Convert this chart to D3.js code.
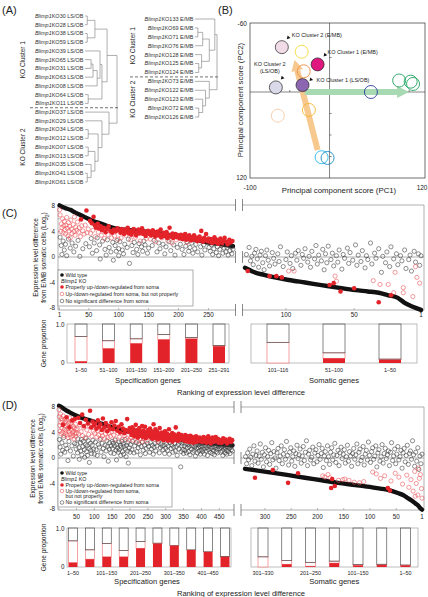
<!DOCTYPE html>
<html><head><meta charset="utf-8">
<script src="https://cdn.jsdelivr.net/npm/d3@7"></script>
<style>body{margin:0;background:#fff}svg{display:block;font-family:"Liberation Sans",Arial,Helvetica,sans-serif}</style>
</head><body><svg id="c" width="428" height="597"></svg>
<script>
// ================= DATA =================
// (A) dendrograms
const leftLeafIds = ["30","28","38","59","39","65","31","63","08","64","11","37","29","34","12","07","13","35","41","61"];
const rightLeafIds = ["133","69","71","76","128","125","124","73","122","123","72","126"];
// node = [childA, childB, height]; numbers are leaf indices
const leftTree = [[[[0,1,0.07],[2,3,0.07],0.31],[[4,[[[5,6,0.19],7,0.25],8,0.38],0.47],[9,10,0.1],0.53],0.69],[11,[12,[[13,14,0.1],[[15,16,0.1],[17,[18,19,0.07],0.19],0.31],0.41],0.53],0.75],1.0];
const rightTree = [[0,[[[1,2,0.13],3,0.35],[4,[5,6,0.17],0.3],0.65],0.9],[7,[8,[9,[10,11,0.17],0.35],0.48],0.65],1.0];

// (B) PCA
const bName  = ["KO Cluster 2 (E/MB)","KO Cluster 1 (E/MB)","KO Cluster 2 (LS/OB)","KO Cluster 1 (LS/OB)","WT-y","WT-o","WT-g","WT-p","WT-n","WT-gr1","WT-gr2","WT-gr3","WT-c1","WT-c2"];
const bPC1   = [-60,-15,-67.5,-34,-35,-32.5,-26,-65,52,87.5,102,105,-10,-2.5];
const bPC2   = [-39,-24,-4,-6,-35,-18,25,33,0,-10,-9,-7,91,92];
const bGroup = ["ko2e","ko1e","ko2l","ko1l","yellow","orange","gold","peach","navy","green","green","green","cyan","blue"];
const bArrowOrange = [[-15,81],[-44,-28]];
const bArrowGreen  = [[-31,0],[100,0]];

// (C) wild-type curves [rank, log2 diff]
const cSpecWT = [[1,8.1],[5,7.9],[10,7.7],[19,7.4],[27,7.0],[36,6.6],[49,6.0],[58,5.6],[69,5.3],[80,4.9],[94,4.5],[110,4.3],[133,4.1],[161,3.8],[189,3.4],[216,3.0],[244,2.4],[272,2.0],[291,1.7]];
const cSomaWT = [[130,-1.7],[127,-2.0],[123,-2.4],[116,-2.8],[110,-3.1],[98,-3.6],[86,-4.0],[74,-4.4],[62,-4.8],[49,-5.2],[40,-5.4],[32,-5.6],[25,-6.0],[18,-6.4],[13,-7.2],[7,-7.8],[1,-8.3]];
// (C) KO points
const cSpecProper = [[37,5.9],[46,7.3],[52,5.7],[55,5.3],[58,6.3],[60,5.0],[62,4.6],[65,5.2],[67,4.5],[70,4.8],[72,4.2],[75,4.6],[78,3.9],[80,4.4],[83,4.8],[86,4.1],[89,3.8],[92,4.3],[95,4.0],[98,4.5],
 [101,4.2],[103,3.8],[105,4.4],[107,4.0],[109,3.6],[111,4.3],[113,3.9],[115,4.6],[117,3.7],[119,4.1],[121,3.5],[123,4.0],[125,4.4],[127,3.8],[129,3.4],[131,4.0],[133,4.3],[135,3.7],[137,3.9],[139,4.5],[141,3.6],[143,4.0],[145,3.3],[147,3.8],[149,4.1],
 [151,3.6],[152,4.0],[154,3.4],[155,3.8],[157,4.2],[158,3.5],[160,3.9],[161,3.2],[163,3.7],[165,4.0],[166,3.4],[168,3.6],[170,4.3],[171,3.1],[173,3.5],[175,3.8],[176,3.3],[178,3.6],[180,3.9],[181,3.0],[183,3.4],[185,4.6],[186,3.2],[188,3.5],[190,3.7],[191,3.0],[193,3.3],[195,3.6],[197,3.1],[199,3.4],
 [201,3.2],[202,2.9],[204,3.5],[205,3.1],[207,2.8],[208,3.3],[210,3.0],[211,3.6],[213,2.7],[215,3.2],[216,2.9],[218,3.4],[220,3.0],[221,2.6],[223,3.1],[225,2.8],[226,3.4],[228,2.7],[230,3.0],[231,2.5],[233,2.9],[235,3.2],[236,2.6],[238,4.1],[240,2.8],[241,2.4],[243,3.0],[245,2.7],[246,3.6],[248,2.5],[250,2.9],
 [252,2.4],[254,2.8],[256,2.2],[258,2.6],[260,3.1],[262,2.3],[264,2.7],[266,2.1],[268,2.5],[270,2.9],[273,2.2],[275,2.6],[277,3.0],[280,2.4],[282,2.0],[285,2.7],[287,2.3],[290,2.5]];
const cSpecImproper = [[1,7.4],[2,6.6],[3,4.0],[4,5.2],[5,4.6],[6,6.0],[7,3.8],[8,4.9],[9,5.6],[10,4.3],[11,3.6],[12,5.0],[13,6.2],[14,4.5],[15,3.3],[16,5.4],[17,4.1],[18,4.8],[19,3.0],[20,5.8],[21,4.4],[22,3.7],[24,5.1],[25,4.0],[26,6.3],[27,3.4],[28,4.7],[30,4.2],[31,5.5],[33,3.9],[34,4.6],[36,3.2],[38,4.9],[40,4.1],[42,3.6],[44,5.0],[47,3.8],[49,4.4],
 [53,3.7],[57,4.2],[61,3.2],[66,3.9],[71,3.4],[76,2.9],[82,3.5],[88,3.0],[93,3.3],[99,2.8],[104,3.0],[112,3.4],[120,2.7],[128,3.1],[136,2.5],[146,2.9],[153,2.8],[162,2.4],[172,3.0],[182,2.6],[189,2.2],[196,2.7],[214,2.3],[234,2.6],[271,2.0]];
const cSpecNoDiff = [[2,3.1],[4,1.8],[5,0.4],[7,2.5],[9,1.1],[11,2.0],[13,0.2],[16,2.8],[19,1.4],[22,2.2],[25,0.8],[28,1.7],[32,2.6],[35,0.1],[40,1.3],[45,2.1],
 [51,1.6],[54,2.9],[56,0.6],[59,2.2],[63,1.0],[64,3.0],[68,1.9],[69,-0.3],[73,2.5],[77,1.2],[79,0.3],[81,2.7],[84,1.5],[87,0.8],[90,2.3],[91,-0.5],[94,1.8],[96,0.9],[97,2.6],[100,1.3],[100,0.2],
 [102,2.4],[106,1.1],[108,0.5],[110,2.0],[114,1.5],[116,2.8],[118,-1.0],[122,1.8],[124,0.7],[126,2.3],[130,1.2],[132,0.4],[134,2.1],[138,1.6],[140,0.9],[142,2.5],[144,1.9],[148,0.6],[150,1.4],
 [156,1.8],[159,2.6],[164,0.8],[167,2.2],[169,1.3],[174,2.0],[177,0.5],[179,1.6],[184,2.4],[187,1.0],[192,1.9],[194,0.3],[198,1.5],
 [203,2.0],[206,1.2],[209,0.4],[212,1.7],[214,2.4],[217,0.9],[219,1.5],[222,2.2],[224,0.6],[227,1.3],[229,2.0],[232,0.8],[237,1.6],[239,0.3],[242,1.9],[244,1.1],[249,2.2],
 [251,1.5],[253,0.9],[255,1.9],[257,0.4],[259,1.3],[261,2.1],[263,0.7],[265,1.6],[267,0.2],[269,1.2],[272,1.8],[274,0.6],[276,1.4],[278,2.0],[279,0.8],[281,1.5],[283,0.3],[284,1.8],[286,1.0],[288,1.6],[289,0.5],[291,1.2]];
const cSomaProper = [[128,-2.2],[112,-3.0],[107,-3.0],[103,-3.2],[68,-4.4],[65,-4.1],[60,-5.4],[50,-4.9],[32,-7.1],[23,-6.0]];
const cSomaImproper = [[98,-2.2],[94,-2.2],[64,-3.0],[63,-3.8],[36,-3.7],[31,-4.3],[25,-4.3],[21,-5.6],[20,-2.4],[14,-5.6],[14,-4.8],[7,-6.2],[5,-1.5],[4,-3.2],[2,-4.1]];
const cSomaNoDiff = [[129,0.4],[127,1.5],[126,-0.6],[125,0.1],[124,-1.2],[123,0.6],[122,1.2],[121,-0.3],[120,-1.6],[119,0.3],[118,0.9],[117,-0.9],[116,-2.0],[115,0.2],[114,1.1],[113,-0.5],[112,-1.4],[110,0.7],[109,-0.2],[108,-1.1],[106,0.5],[105,-0.7],[104,1.6],[102,-1.5],[100,-0.4],[99,0.8],[97,-1.0],[96,0.2],[95,-1.8],[93,0.6],[92,-0.5],[91,1.0],[89,-1.3],[88,0.4],[87,-0.2],[86,1.3],[84,-0.8],[83,0.1],[82,-1.6],[81,0.9],[79,-0.3],[78,1.8],[77,-1.1],[76,0.3],[74,-0.6],[73,1.2],[72,-2.0],[71,0.5],[70,-0.9],[69,1.7],[67,-0.4],[66,0.6],[65,-1.4],[63,0.2],[62,-0.8],[61,1.1],[59,-1.9],[58,0.4],[57,-0.2],[55,1.4],[54,-1.0],[53,0.7],[51,-0.5],[49,1.9],[48,-1.3],[47,0.3],[45,-0.7],[44,1.0],[42,-1.7],[41,0.2],[40,-0.4],[38,2.2],[37,-1.1],[35,0.6],[34,-0.2],[32,1.3],[30,-2.4],[29,0.1],[27,-0.9],[26,0.8],[24,-1.5],[23,1.6],[21,-0.3],[19,0.5],[18,-1.2],[16,0.2],[15,-0.6],[13,1.1],[12,-1.8],[10,-0.4],[9,0.3],[8,-2.2],[6,0.9],[5,-0.8],[3,0.5],[2,-1.3],[1,0.2]];

// (D) wild-type curves
const dSpecWT = [[1,8.2],[5,8.1],[10,7.9],[20,7.5],[30,7.2],[47,6.7],[65,6.3],[83,6.0],[105,5.6],[130,5.2],[150,4.8],[177,4.4],[200,4.1],[222,3.9],[245,3.7],[269,3.45],[290,3.2],[316,3.0],[340,2.85],[361,2.7],[385,2.55],[408,2.4],[430,2.3],[455,2.2],[487,2.0]];
const dSomaWT = [[338,-1.7],[320,-1.9],[287,-2.3],[255,-2.7],[224,-3.1],[192,-3.5],[161,-3.9],[128,-4.25],[96,-4.6],[80,-4.8],[66,-5.0],[47,-5.5],[35,-5.9],[28,-6.3],[20,-6.7],[14,-7.1],[8,-7.5],[5,-7.8],[1,-8.1]];
// (D) KO points
const dSpecProper = [[12,5.2],[22,6.4],[30,4.8],[38,5.9],[45,6.1],
 [55,6.3],[60,5.5],[66,6.8],[71,5.0],[76,6.0],[82,5.4],[88,7.4],[91,4.8],[95,5.7],[99,5.1],
 [102,5.4],[106,4.6],[110,5.9],[113,4.9],[117,5.3],[121,4.4],[124,6.2],[128,4.8],[132,5.5],[136,4.2],[140,5.0],[144,4.6],[148,5.6],
 [152,4.5],[156,5.1],[160,5.8],[164,4.3],[168,4.9],[172,4.0],[176,5.3],[180,4.6],[184,3.9],[188,4.4],[192,6.1],[196,4.1],[199,4.7],
 [202,4.2],[204,3.6],[206,4.8],[208,3.9],[210,4.5],[212,3.4],[214,4.1],[216,5.2],[218,3.7],[220,4.4],[222,3.2],[224,4.0],[226,4.7],[228,3.5],[230,4.2],[232,3.8],[234,5.0],[236,3.3],[238,4.3],[240,3.6],[242,4.9],[244,3.1],[246,4.0],[248,3.7],
 [251,4.4],[253,3.4],[254,3.9],[256,4.6],[258,3.2],[259,3.7],[261,4.2],[263,3.0],[264,3.6],[266,5.3],[268,3.3],[269,3.9],[271,4.5],[273,3.1],[274,3.5],[276,4.1],[278,2.9],[279,3.4],[281,3.8],[283,4.7],[284,3.2],[286,3.6],[288,4.0],[289,3.0],[291,3.3],[293,3.9],[294,2.8],[296,3.5],[298,4.2],[299,3.1],
 [301,3.5],[303,3.0],[304,3.8],[306,2.7],[308,3.3],[309,4.5],[311,3.1],[313,3.6],[314,2.8],[316,3.4],[318,3.9],[319,2.6],[321,3.2],[323,3.7],[324,2.9],[326,3.3],[328,4.8],[329,3.0],[331,3.5],[333,2.7],[334,3.2],[336,3.8],[338,2.8],[339,3.4],[341,3.0],[344,3.6],[347,2.9],
 [351,3.3],[353,2.7],[355,3.6],[357,3.0],[359,2.6],[361,3.4],[363,2.9],[365,3.2],[367,2.5],[369,3.5],[371,3.0],[373,2.7],[375,3.3],[377,2.4],[380,3.1],[382,2.8],[385,3.4],[387,2.5],[390,3.0],[393,2.7],[395,3.2],[398,2.6],
 [401,3.0],[404,2.5],[406,3.3],[409,2.7],[411,3.1],[414,2.4],[416,2.9],[419,3.4],[421,2.6],[424,3.0],[426,2.3],[429,2.8],[431,3.2],[434,2.5],[437,2.9],[440,3.3],[443,2.6],[446,3.0],[449,2.4],
 [453,2.8],[457,2.4],[461,3.1],[464,2.6],[468,2.9],[472,2.3],[476,2.7],[479,3.0],[483,2.5],[486,2.8]];
const dSpecImproper = [[1,7.6],[2,6.5],[3,5.1],[4,4.2],[5,6.9],[6,5.6],[7,3.8],[8,6.2],[9,4.7],[10,5.9],[11,4.0],[13,6.6],[14,5.3],[15,3.5],[16,4.5],[17,6.1],[18,5.0],[19,3.9],[20,5.7],[21,4.3],[23,6.0],[24,3.6],[25,5.2],[26,4.6],[27,3.2],[28,5.5],[29,4.1],[31,6.3],[32,3.7],[33,4.9],[34,5.4],[35,3.3],[36,4.4],[37,5.8],[39,4.0],[40,3.5],[41,5.0],[42,4.2],[43,3.0],[44,4.7],[46,3.8],[47,5.3],[48,3.4],[49,4.5],[50,3.9],
 [52,4.6],[56,3.8],[59,5.2],[63,4.1],[67,3.5],[70,4.8],[74,3.2],[79,4.4],[84,3.7],[87,5.0],[93,3.4],[97,4.2],
 [101,3.9],[104,4.8],[107,3.3],[109,4.3],[112,3.6],[115,5.0],[118,3.1],[120,4.0],[123,3.5],[126,4.6],[129,3.0],[131,3.8],[134,4.4],[138,3.2],[141,3.9],[145,3.4],[149,4.1],
 [154,3.6],[159,3.0],[166,3.9],[171,3.3],[178,2.9],[185,3.5],[191,3.1],[197,2.8],
 [203,3.2],[209,2.8],[215,3.4],[221,2.6],[227,3.0],[233,2.5],[239,3.1],[247,2.7],[277,2.6]];
const dSpecNoDiff = [[2,2.9],[4,1.7],[6,0.6],[9,2.4],[11,1.2],[14,3.2],[17,0.9],[20,2.0],[23,1.5],[26,-0.4],[29,2.6],[33,1.1],[37,1.9],[41,0.3],[45,2.3],[49,1.4],
 [51,2.2],[53,0.8],[54,3.0],[57,1.6],[58,-0.2],[61,2.4],[62,1.1],[64,2.9],[65,0.5],[68,1.8],[69,2.6],[72,1.3],[73,0.1],[75,2.1],[77,3.1],[78,1.0],[80,1.9],[81,0.4],[83,2.7],[85,1.5],[86,-0.7],[89,2.3],[90,1.2],[92,0.7],[94,2.0],[96,2.8],[98,1.4],[100,0.6],
 [103,2.5],[105,1.3],[108,0.4],[111,2.1],[114,1.7],[116,2.9],[119,0.9],[122,2.3],[125,1.5],[127,0.2],[130,2.0],[133,1.1],[135,2.7],[137,1.8],[139,-0.5],[142,1.4],[143,2.4],[146,0.8],[147,1.9],[150,2.6],
 [151,1.5],[153,2.3],[155,0.7],[157,1.9],[158,2.8],[161,1.2],[162,-0.3],[163,2.1],[165,1.6],[167,0.9],[169,2.5],[170,1.3],[173,2.0],[174,0.4],[175,1.7],[177,2.6],[179,1.0],[181,2.2],[182,0.6],[183,1.8],[186,2.9],[187,1.4],[189,0.2],[190,2.0],[193,1.1],[194,2.4],[195,-0.8],[198,1.6],[200,0.9],
 [201,2.1],[205,1.3],[207,2.6],[211,0.8],[213,1.9],[217,2.4],[219,1.0],[223,1.6],[225,2.2],[229,0.5],[231,1.8],[235,2.5],[237,1.2],[241,2.0],[243,0.7],[245,1.5],[249,2.3],
 [252,1.8],[255,0.9],[257,2.4],[260,1.4],[262,2.0],[265,0.6],[267,1.7],[270,2.3],[272,1.1],[275,1.9],[280,2.5],[282,0.8],[285,1.6],[287,2.2],[290,-2.7],[292,1.3],[295,2.0],[297,0.7],[300,1.5],[290,1.9],
 [302,2.2],[305,1.2],[307,1.9],[310,0.6],[312,2.4],[315,1.5],[317,2.0],[320,0.9],[322,1.7],[325,2.3],[327,1.1],[330,1.8],[332,0.4],[335,2.1],[337,1.4],[340,2.5],[342,-1.4],[343,1.0],[345,1.9],[346,2.3],[348,1.3],[350,0.7],
 [352,1.9],[354,1.2],[356,2.3],[358,0.8],[360,1.6],[362,2.1],[364,1.0],[366,1.8],[368,0.5],[370,2.2],[372,1.4],[374,1.9],[376,0.9],[378,2.4],[379,1.2],[381,1.7],[383,0.3],[384,2.0],[386,1.5],[388,2.3],[389,0.8],[391,1.6],[392,2.1],[394,1.1],[396,1.8],[397,0.6],[399,2.2],[400,1.3],
 [402,1.8],[403,1.0],[405,2.2],[407,1.4],[408,0.6],[410,1.9],[412,2.4],[413,1.1],[415,1.6],[417,0.4],[418,2.0],[420,1.3],[422,1.8],[423,2.3],[425,0.9],[427,1.5],[428,2.1],[430,0.7],[432,1.7],[433,1.2],[435,2.2],[436,0.5],[438,1.6],[439,1.9],[441,1.0],[442,2.4],[444,1.4],[445,0.8],[447,1.8],[448,2.1],
 [451,1.5],[452,2.0],[454,0.9],[455,1.7],[456,2.3],[458,1.1],[459,1.8],[460,0.4],[462,2.1],[463,1.4],[465,1.9],[466,0.8],[467,1.6],[469,2.2],[470,1.2],[471,0.6],[473,1.8],[474,2.4],[475,1.0],[477,1.5],[478,2.0],[480,0.7],[481,1.7],[482,2.2],[484,1.3],[485,1.9],[487,1.1]];
const dSomaProper = [[319,-3.1],[285,-1.9],[256,-3.9],[237,-2.4],[172,-3.3],[174,-4.7],[167,-4.4],[66,-4.7],[62,-5.1]];
const dSomaImproper = [[190,-2.8],[186,-3.0],[180,-2.6],[176,-3.1],[160,-3.5],[152,-3.4],[148,-3.3],[140,-3.5],[130,-3.8],[120,-3.9],[112,-3.7],[95,-2.2],[88,-2.5],[80,-3.2],[72,-2.8],[60,-3.6],[52,-2.4],[45,-3.0],[38,-4.1],[30,-2.7],[26,-4.6],[22,-3.4],[18,-5.2],[15,-2.1],[14,-6.0],[12,-4.0],[9,-5.8],[8,-1.6],[6,-3.2],[4,-2.6],[2,-4.8],[1,-6.3]];
const dSomaNoDiff = [[337,0.2],[335,-0.9],[333,0.8],[331,-0.3],[329,1.4],[327,0.1],[325,-1.2],[323,0.6],[321,1.9],[319,-0.5],[317,0.4],[315,1.1],[313,-0.8],[311,0.3],[309,2.2],[307,-0.2],[305,0.9],[303,-1.4],[301,0.5],[299,1.6],[297,-0.6],[295,0.2],[293,1.2],[291,-1.0],[289,0.7],[287,2.4],[285,-0.3],[283,1.0],[281,0.0],[279,-1.6],[277,0.8],[275,1.5],[273,-0.4],[271,0.3],[269,1.9],[267,-0.9],[265,0.6],[263,1.3],[261,-0.2],[259,2.6],[257,0.4],[255,-1.1],[253,0.9],[251,1.6],[249,-0.5],[247,0.2],[245,1.1],[243,-1.3],[241,0.7],[239,2.0],[237,-0.1],[235,0.5],[233,1.4],[231,-0.8],[229,0.3],[227,1.8],[225,-0.4],[223,0.9],[221,2.7],[219,-1.2],[217,0.6],[215,1.2],[213,-0.3],[211,0.1],[209,1.7],[207,-0.9],[205,0.8],[203,1.3],[201,-0.6],[199,0.4],[197,2.1],[195,-0.2],[193,0.7],[191,1.5],[189,-1.5],[187,0.3],[185,1.0],[183,-0.4],[181,1.9],[179,0.2],[177,-1.0],[175,0.9],[173,1.6],[171,-0.3],[169,0.5],[167,2.3],[165,-0.7],[163,0.4],[161,1.2],[159,-1.2],[157,0.8],[155,1.7],[153,-0.1],[151,0.6],[149,1.3],[147,-0.8],[145,0.2],[143,2.0],[141,-0.5],[139,1.0],[137,0.3],[135,-1.3],[133,0.7],[131,1.5],[129,-0.2],[127,0.5],[125,2.2],[123,-0.9],[121,0.9],[119,1.4],[117,-0.4],[115,0.1],[113,1.8],[111,-1.1],[109,0.6],[107,1.2],[105,-0.3],[103,2.5],[101,0.4],[99,-0.7],[97,1.0],[95,1.6],[93,-0.2],[91,0.3],[89,1.9],[87,-1.4],[85,0.8],[83,1.3],[81,-0.5],[79,0.2],[77,2.1],[75,-0.8],[73,0.7],[71,1.5],[69,-0.1],[67,0.5],[65,1.1],[63,-1.2],[61,0.9],[59,2.4],[57,-0.4],[55,0.3],[53,1.4],[51,-0.9],[49,0.6],[47,1.8],[45,-0.3],[43,0.2],[41,1.2],[39,-1.6],[37,0.8],[35,1.5],[33,-0.6],[31,0.4],[29,2.0],[27,-1.0],[25,0.7],[23,1.1],[21,-0.2],[19,2.7],[17,0.5],[15,-1.3],[13,0.9],[11,-0.5],[9,1.6],[7,-1.8],[5,0.3],[3,-0.9],[1,0.6]];

// gene-proportion bars
const cSpecCats = ["1–50","51–100","101–150","151–200","201–250","251–291"];
const cSpecProp = [0.04,0.37,0.50,0.60,0.62,0.43];
const cSpecImp  = [0.64,0.20,0.12,0.13,0.03,0.02];
const cSomaCats = ["101–116","51–100","1–50"];
const cSomaProp = [0.0,0.12,0.08];
const cSomaImp  = [0.53,0.14,0.02];
const dSpecCats = ["1–50","51–100","101–150","151–200","201–250","251–300","301–350","351–400","401–450","451–487"];
const dSpecProp = [0.11,0.20,0.26,0.26,0.48,0.60,0.55,0.44,0.39,0.26];
const dSpecImp  = [0.56,0.24,0.34,0.16,0.17,0.01,0.0,0.0,0.0,0.01];
const dSomaCats = ["301–330","251–300","201–250","151–200","101–150","51–100","1–50"];
const dSomaProp = [0.0,0.07,0.02,0.10,0.04,0.05,0.04];
const dSomaImp  = [0.26,0.10,0.10,0.05,0.02,0.02,0.01];

const yTicksScatter = [8,4,0,-4,-8];

// ================= DRAWING =================
const svg = d3.select("#c");
const RED = "#e3232a", RED_O = "#ea4a4f", AX = "#8e8e8e", DK = "#222";

function txt(g, x, y, s, size, anchor, extra) {
  const t = g.append("text").attr("x", x).attr("y", y).attr("font-size", size)
    .attr("text-anchor", anchor || "start").attr("fill", DK).text(s);
  if (extra) extra(t);
  return t;
}
function ln(g, x1, y1, x2, y2, c, w, dash) {
  const l = g.append("line").attr("x1", x1).attr("y1", y1).attr("x2", x2).attr("y2", y2)
    .attr("stroke", c || AX).attr("stroke-width", w || 0.7);
  if (dash) l.attr("stroke-dasharray", dash);
  return l;
}
function rotText(g, x, y, parts, size) {
  const t = g.append("text").attr("transform", `translate(${x},${y}) rotate(-90)`)
    .attr("font-size", size).attr("text-anchor", "middle").attr("fill", DK);
  parts.forEach(p => {
    const s = t.append("tspan").text(p.t);
    if (p.i) s.attr("font-style", "italic");
    if (p.sub) s.attr("baseline-shift", "sub").attr("font-size", size * 0.7);
  });
  return t;
}

// panel letters
[["(A)",2,14],["(B)",218,14],["(C)",2,217],["(D)",2,409]].forEach(d => txt(svg, d[1], d[2], d[0], 11));

// ---------- (A) ----------
function drawTree(tree, ids, suffix, yr, xr) {
  const g = svg.append("g");
  const y = d3.scaleLinear().domain([0, ids.length - 1]).range(yr);
  const x = d3.scaleLinear().domain([0, 1]).range(xr);
  function walk(n) {
    if (typeof n === "number") return { y: y(n), h: 0 };
    const a = walk(n[0]), b = walk(n[1]), h = n[2];
    g.append("path").attr("d", `M${x(a.h)},${a.y}H${x(h)}V${b.y}H${x(b.h)}`)
      .attr("fill", "none").attr("stroke", "#7a7a7a").attr("stroke-width", 0.6);
    return { y: (a.y + b.y) / 2, h };
  }
  walk(tree);
  ids.forEach((id, i) => {
    const t = g.append("text").attr("x", xr[0] - 1.5).attr("y", y(i) + 1.9)
      .attr("font-size", 5.5).attr("text-anchor", "end").attr("fill", "#333");
    t.append("tspan").attr("font-style", "italic").text("Blimp1");
    t.append("tspan").text("KO" + id + " " + suffix);
  });
  return y;
}
const yl = drawTree(leftTree, leftLeafIds, "LS/OB", [16, 182], [85, 117]);
ln(svg, 30, yl(10.5), 118, yl(10.5), "#333", 0.7, "3,2");
rotText(svg, 24.5, (yl(0) + yl(10)) / 2, [{ t: "KO Cluster 1" }], 6.5);
rotText(svg, 24.5, (yl(11) + yl(19)) / 2, [{ t: "KO Cluster 2" }], 6.5);
const yr = drawTree(rightTree, rightLeafIds, "E/MB", [19, 117], [195, 217]);
ln(svg, 130, yr(6.5), 218, yr(6.5), "#333", 0.7, "3,2");
rotText(svg, 134.5, (yr(0) + yr(6)) / 2, [{ t: "KO Cluster 1" }], 6.5);
rotText(svg, 134.5, (yr(7) + yr(11)) / 2, [{ t: "KO Cluster 2" }], 6.5);

// ---------- (B) ----------
(function () {
  const g = svg.append("g");
  const x = d3.scaleLinear().domain([-100, 120]).range([250, 425]);
  const y = d3.scaleLinear().domain([-60, 0, 120]).range([23, 92, 178]);
  g.append("rect").attr("x", x(-100)).attr("y", y(-60)).attr("width", x(120) - x(-100)).attr("height", y(120) - y(-60))
    .attr("fill", "none").attr("stroke", "#333").attr("stroke-width", 0.7);
  ln(g, x(0), y(-60), x(0), y(120), "#333", 0.6);
  ln(g, x(-100), y(0), x(120), y(0), "#333", 0.6);
  [-30, 30, 60, 90].forEach(v => ln(g, x(0), y(v), x(0) + 2, y(v), "#333", 0.6));
  [-50, 50, 100].forEach(v => ln(g, x(v), y(0), x(v), y(0) - 2, "#333", 0.6));
  function arrow(p, color, w, hl, hw) {
    const x1 = x(p[0][0]), y1 = y(p[0][1]), x2 = x(p[1][0]), y2 = y(p[1][1]);
    const a = Math.atan2(y2 - y1, x2 - x1), c = Math.cos(a), s = Math.sin(a);
    const bx = x2 - hl * c, by = y2 - hl * s;
    g.append("line").attr("x1", x1).attr("y1", y1).attr("x2", bx).attr("y2", by)
      .attr("stroke", color).attr("stroke-width", w);
    g.append("path").attr("d", `M${x2},${y2}L${bx - hw / 2 * s},${by + hw / 2 * c}L${bx + hw / 2 * s},${by - hw / 2 * c}Z`).attr("fill", color);
  }
  arrow(bArrowOrange, "#f7c98f", 6, 11, 12);
  arrow(bArrowGreen, "#a7d9b2", 6, 12, 12);
  const st = {
    ko2e: { f: "#f1dbe7", s: "#222" }, ko1e: { f: "#e0177f", s: "#222" }, ko2l: { f: "#d9d9ea", s: "#222" }, ko1l: { f: "#8d66b2", s: "#222" },
    yellow: { f: "none", s: "#f4dc3a" }, orange: { f: "none", s: "#f08c3e" }, gold: { f: "none", s: "#f4b62e" }, peach: { f: "none", s: "#f7c9a5" },
    navy: { f: "none", s: "#2d3c9c" }, green: { f: "none", s: "#1ea35f" }, cyan: { f: "none", s: "#2ab9ea" }, blue: { f: "none", s: "#1b89c6" }
  };
  bPC1.forEach((v, i) => {
    const k = st[bGroup[i]];
    g.append("circle").attr("cx", x(v)).attr("cy", y(bPC2[i])).attr("r", 6.5)
      .attr("fill", k.f).attr("stroke", k.s).attr("stroke-width", k.f === "none" ? 0.9 : 0.7);
  });
  // annotations for KO clusters (offsets from circle)
  const ann = [
    { lines: ["KO Cluster 2 (E/MB)"], dx: 10, dy: -12, anchor: "start", tx: 5, ty: -8 },
    { lines: ["KO Cluster 1 (E/MB)"], dx: 10, dy: -12, anchor: "start", tx: 6, ty: -8 },
    { lines: ["KO Cluster 2", "(LS/OB)"], dx: -6, dy: -23, anchor: "middle", tx: 5, ty: -8 },
    { lines: ["KO Cluster 1 (LS/OB)"], dx: 14, dy: -5, anchor: "start", tx: 7, ty: -4 }
  ];
  ann.forEach((a, i) => {
    const cx = x(bPC1[i]), cy = y(bPC2[i]);
    a.lines.forEach((s, j) => txt(g, cx + a.dx, cy + a.dy + j * 7 + 2, s, 5.5, a.anchor));
    const px = cx + a.tx, py = cy + a.ty;
    g.append("path").attr("d", `M${px},${py}L${px + 0.8},${py - 3.6}L${px + 3.6},${py - 1.2}Z`).attr("fill", "#111");
  });
  txt(g, 247, y(-60) + 2.5, "-60", 6.5, "end");
  txt(g, 247, y(120) + 2, "120", 6.5, "end");
  txt(g, x(-100), 190, "-100", 6.5, "middle");
  txt(g, 427.5, 190, "120", 6.5, "end");
  txt(g, 339, 193, "Principal component score (PC1)", 7.8, "middle");
  rotText(g, 243, 100, [{ t: "Principal component score (PC2)" }], 7.8);
})();

// ---------- scatter panels ----------
function drawScatter(o) {
  const g = svg.append("g");
  const y = d3.scaleLinear().domain(o.yDom).range([o.bottom, o.top]);
  const xL = d3.scaleLinear().domain(o.specDom).range(o.specRange);
  const xR = d3.scaleLinear().domain(o.somaDom).range(o.somaRange);
  ln(g, o.left, o.top, o.bL, o.top); ln(g, o.left, o.bottom, o.bL, o.bottom); ln(g, o.left, o.top, o.left, o.bottom);
  ln(g, o.bR, o.top, o.right, o.top); ln(g, o.bR, o.bottom, o.right, o.bottom); ln(g, o.right, o.top, o.right, o.bottom);
  ln(g, o.left, y(0), o.bL, y(0)); ln(g, o.bR, y(0), o.right, y(0));
  [o.top, y(0), o.bottom].forEach(v => { ln(g, o.bL, v - 6, o.bL, v + 6, "#555", 0.7); ln(g, o.bR, v - 6, o.bR, v + 6, "#555", 0.7); });
  d3.range(-8, 9, 2).forEach(v => ln(g, o.left, y(v), o.left + 2, y(v), AX, 0.6));
  yTicksScatter.forEach(v => txt(g, o.left - 3, y(v) + 2.2, String(v), 6.3, "end"));
  o.specTicks.forEach(v => { ln(g, xL(v), o.bottom, xL(v), o.bottom - 2, AX, 0.6); txt(g, xL(v), o.bottom + o.tickDy, String(v), 6.3, "middle"); });
  o.somaTicks.forEach(v => { ln(g, xR(v), o.bottom, xR(v), o.bottom - 2, AX, 0.6); txt(g, xR(v), o.bottom + o.tickDy, String(v), 6.3, "middle"); });
  const line = xs => d3.line().x(d => xs(d[0])).y(d => y(d[1])).curve(d3.curveMonotoneX);
  [[o.specWT, xL], [o.somaWT, xR]].forEach(([d, xs]) => g.append("path").attr("d", line(xs)(d))
    .attr("fill", "none").attr("stroke", "#111").attr("stroke-width", 4.4).attr("stroke-linecap", "round").attr("stroke-linejoin", "round"));
  const pts = (d, xs, kind) => g.append("g").selectAll("circle").data(d).join("circle")
    .attr("cx", p => xs(p[0])).attr("cy", p => y(p[1])).attr("r", kind === "p" ? 2.3 : 2.1)
    .attr("fill", kind === "p" ? RED : "none")
    .attr("stroke", kind === "p" ? "none" : (kind === "i" ? RED_O : "#333")).attr("stroke-width", 0.55);
  pts(o.specN, xL, "n"); pts(o.somaN, xR, "n");
  pts(o.specI, xL, "i"); pts(o.somaI, xR, "i");
  pts(o.specP, xL, "p"); pts(o.somaP, xR, "p");
  // legend
  const L = o.legend;
  g.append("rect").attr("x", L.x0).attr("y", L.y0).attr("width", L.x1 - L.x0).attr("height", L.y1 - L.y0)
    .attr("fill", "#fff").attr("stroke", AX).attr("stroke-width", 0.7);
  L.rows.forEach(r => {
    if (r.sym) {
      g.append("circle").attr("cx", L.x0 + 4).attr("cy", r.y).attr("r", 1.8)
        .attr("fill", r.sym === "wt" ? "#111" : (r.sym === "p" ? RED : "#fff"))
        .attr("stroke", r.sym === "i" ? RED_O : (r.sym === "n" ? "#333" : "none")).attr("stroke-width", 0.55);
    }
    const t = g.append("text").attr("x", r.sym || r.ind ? L.x0 + 7.5 : L.x0 + 3).attr("y", r.y + 1.9)
      .attr("font-size", 5.3).attr("fill", DK);
    if (r.ko) { t.append("tspan").attr("font-style", "italic").text("Blimp1"); t.append("tspan").text(" KO"); }
    else t.text(r.t);
  });
  rotText(g, o.titleX1, (o.top + o.bottom) / 2, [{ t: "Expression level difference" }], 6.6);
  rotText(g, o.titleX2, (o.top + o.bottom) / 2, [{ t: "from E/MB somatic cells (Log" }, { t: "2", sub: true }, { t: ")" }], 6.6);
}

drawScatter({
  top: 205, bottom: 310, yDom: [-8.31, 8.16], left: 58, bL: 235.5, bR: 242.5, right: 424,
  specDom: [1, 291], specRange: [59.5, 233], somaDom: [130, 1], somaRange: [245, 421], tickDy: 7,
  specTicks: [1, 50, 100, 150, 200, 250], somaTicks: [100, 50, 1],
  specWT: cSpecWT, somaWT: cSomaWT, specP: cSpecProper, specI: cSpecImproper, specN: cSpecNoDiff,
  somaP: cSomaProper, somaI: cSomaImproper, somaN: cSomaNoDiff, titleX1: 37.5, titleX2: 46,
  legend: { x0: 58, x1: 193, y0: 270, y1: 306, rows: [
    { y: 275, sym: "wt", t: "Wild type" }, { y: 281, ko: true }, { y: 287, sym: "p", t: "Properly up-/down-regulated from soma" },
    { y: 294, sym: "i", t: "Up-/down-regulated from soma, but not properly" }, { y: 301, sym: "n", t: "No significant difference from soma" }] }
});
drawScatter({
  top: 407, bottom: 510, yDom: [-8.16, 8], left: 58, bL: 234, bR: 241, right: 424,
  specDom: [1, 487], specRange: [59, 232.5], somaDom: [338, 1], somaRange: [245, 422], tickDy: 9,
  specTicks: [50, 100, 150, 200, 250, 300, 350, 400, 450], somaTicks: [300, 250, 200, 150, 100, 50, 1],
  specWT: dSpecWT, somaWT: dSomaWT, specP: dSpecProper, specI: dSpecImproper, specN: dSpecNoDiff,
  somaP: dSomaProper, somaI: dSomaImproper, somaN: dSomaNoDiff, titleX1: 34.5, titleX2: 43,
  legend: { x0: 58, x1: 172, y0: 468, y1: 507, rows: [
    { y: 473, sym: "wt", t: "Wild type" }, { y: 479, ko: true }, { y: 485, sym: "p", t: "Properly up-/down-regulated from soma" },
    { y: 491, sym: "i", t: "Up-/down-regulated from soma," }, { y: 496.5, ind: true, t: "but not properly" }, { y: 502.5, sym: "n", t: "No significant difference from soma" }] }
});

// ---------- bar panels ----------
function drawBars(o) {
  const g = svg.append("g");
  const y = d3.scaleLinear().domain([0, 1]).range([o.bottom, o.top]);
  [[o.lBox, o.spec], [o.rBox, o.soma]].forEach(([box, s]) => {
    g.append("rect").attr("x", box[0]).attr("y", o.top).attr("width", box[1] - box[0]).attr("height", o.bottom - o.top)
      .attr("fill", "none").attr("stroke", "#a0a0a0").attr("stroke-width", 0.7);
    const x = d3.scalePoint().domain(s.cats).range(s.range);
    s.cats.forEach((c, i) => {
      const cx = x(c), w = s.w, p = s.prop[i], q = s.imp[i];
      if (q > 0) g.append("rect").attr("x", cx - w / 2).attr("y", y(p + q)).attr("width", w).attr("height", y(p) - y(p + q))
        .attr("fill", "#fff").attr("stroke", "#f07a7d").attr("stroke-width", 0.7);
      g.append("rect").attr("x", cx - w / 2).attr("y", y(1)).attr("width", w).attr("height", y(p + q) - y(1))
        .attr("fill", "none").attr("stroke", "#555").attr("stroke-width", 0.7);
      if (p > 0) g.append("rect").attr("x", cx - w / 2).attr("y", y(p)).attr("width", w).attr("height", y(0) - y(p)).attr("fill", RED);
      if (i % s.every === 0) txt(g, cx, o.catY, c, 5.4, "middle");
    });
    txt(g, (s.range[0] + s.range[1]) / 2 + (s.titleDx || 0), o.titleY, s.title, 7.6, "middle");
  });
  txt(g, o.lBox[0] - 2.5, y(1) + 2.5, "1.0", 6.3, "end");
  txt(g, o.lBox[0] - 2.5, y(0) + 1.5, "0", 6.3, "end");
  rotText(g, 45.5, (o.top + o.bottom) / 2, [{ t: "Gene proportion" }], 6.6);
  txt(g, 241, o.rankY, "Ranking of expression level difference", 7.6, "middle");
}
drawBars({
  top: 324, bottom: 363, lBox: [67, 229], rBox: [251, 417], catY: 372, titleY: 383, rankY: 394.5,
  spec: { cats: cSpecCats, prop: cSpecProp, imp: cSpecImp, range: [81, 219], w: 12, every: 1, title: "Specification genes", titleDx: -2 },
  soma: { cats: cSomaCats, prop: cSomaProp, imp: cSomaImp, range: [278, 390], w: 22, every: 1, title: "Somatic genes" }
});
drawBars({
  top: 528, bottom: 567, lBox: [67, 231], rBox: [251, 418], catY: 574.5, titleY: 584, rankY: 595.5,
  spec: { cats: dSpecCats, prop: dSpecProp, imp: dSpecImp, range: [73, 225], w: 9, every: 2, title: "Specification genes", titleDx: -2 },
  soma: { cats: dSomaCats, prop: dSomaProp, imp: dSomaImp, range: [263, 405.5], w: 10, every: 2, title: "Somatic genes" }
});
</script></body></html>
